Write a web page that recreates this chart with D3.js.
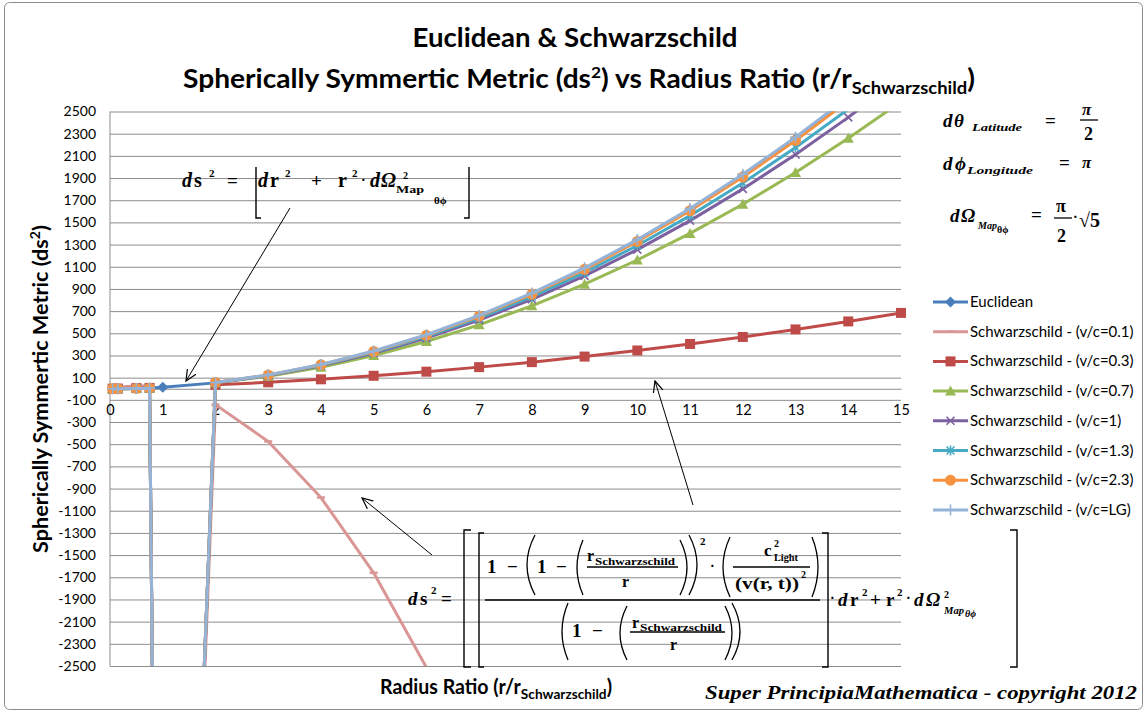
<!DOCTYPE html>
<html>
<head>
<meta charset="utf-8">
<script src="https://d3js.org/d3.v7.min.js"></script>
<style>
  body { margin: 0; background: #fff; }
  text { font-family: Lato, "Open Sans", sans-serif; fill: #000; }
  .eq text, text.serif { font-family: "Liberation Serif", "DejaVu Serif", serif; font-weight: bold; }
  .eq path, .eq line { stroke: #000; fill: none; }
</style>
</head>
<body>
<div id="chart"></div>
<script>
"use strict"

// raio r/r_Schwarzschild
var radio = [0.05, 0.15, 0.5, 0.75, 1, 2, 3, 4, 5, 6, 7, 8, 9, 10, 11, 12, 13, 14, 15];

var euclidean = [0, 0.3, 3.3, 7.5, 13.3, 53, 120, 213, 333, 480, 654, 854, 1080, 1334, 1614, 1920, 2254, 2614, 3001];
var vc01 = [4.8, 13, 27.8, 24, -12000, -143, -475, -981, -1660, -2513, -3538, -4737, -6110, -7655, -9374, -11266, -13332, -15571, -17983];
var vc03 = [0.6, 1.7, 5.6, 7.3, -12000, 35, 58, 85, 117, 154, 195, 240, 290, 345, 404, 467, 535, 607, 684];
var vc07 = [0.1, 0.5, 3.3, 5.6, -12000, 53, 112, 194, 299, 426, 576, 748, 943, 1161, 1401, 1664, 1950, 2258, 2588];
var vc1  = [0, 0.2, 3.1, 5.4, -12000, 55, 119, 207, 320, 457, 620, 807, 1018, 1255, 1516, 1802, 2112, 2447, 2807];
var vc13 = [0, 0.2, 3.0, 5.4, -12000, 56, 121, 212, 328, 470, 637, 830, 1048, 1292, 1561, 1855, 2176, 2521, 2893];
var vc23 = [0, 0.2, 2.9, 5.3, -12000, 57, 123, 216, 336, 482, 654, 852, 1077, 1328, 1605, 1909, 2239, 2595, 2977];
var vcLG = [0, 0.2, 2.8, 5.3, -12000, 57, 125, 219, 340, 487, 662, 863, 1090, 1345, 1626, 1934, 2268, 2629, 3017];

var nomes = ["Euclidean", "Schwarzschild - (v/c=0.1)", "Schwarzschild - (v/c=0.3)", "Schwarzschild - (v/c=0.7)",
             "Schwarzschild - (v/c=1)", "Schwarzschild - (v/c=1.3)", "Schwarzschild - (v/c=2.3)", "Schwarzschild - (v/c=LG)"];
var valores = [euclidean, vc01, vc03, vc07, vc1, vc13, vc23, vcLG];

var xTicks = [0, 1, 2, 3, 4, 5, 6, 7, 8, 9, 10, 11, 12, 13, 14, 15];
var yTicks = [2500, 2300, 2100, 1900, 1700, 1500, 1300, 1100, 900, 700, 500, 300, 100,
              -100, -300, -500, -700, -900, -1100, -1300, -1500, -1700, -1900, -2100, -2300, -2500];

// estilos
var cores = ["#4A7EBB", "#D99694", "#BE4B48", "#98B954", "#7D60A0", "#46AAC5", "#F69240", "#95B3D7"];
var marcas = ["diamond", "dash", "square", "triangle", "times", "star", "circle", "plus"];

var svg = d3.select('#chart').append('svg')
    .attr('width', 1146)
    .attr('height', 713);

svg.append('rect')
    .attr('x', 4.5).attr('y', 2.5).attr('width', 1138).attr('height', 707).attr('rx', 5)
    .attr('fill', '#fff').attr('stroke', '#8c8c8c');

var x = d3.scaleLinear().domain([0, 15]).range([110, 901]);
var y = d3.scaleLinear().domain([-2500, 2500]).range([666, 111.5]);

// grade
svg.append('g')
    .attr('transform', 'translate(110,0)')
    .call(d3.axisLeft(y).tickValues(yTicks).tickSize(-791).tickFormat(''))
    .call(g => g.select('.domain').remove())
    .selectAll('line').attr('stroke', '#8c8c8c');

svg.append('line').attr('x1', 110).attr('x2', 110).attr('y1', y(2500)).attr('y2', y(-2500)).attr('stroke', '#8c8c8c');

var eixoY = svg.append('g')
    .attr('transform', 'translate(110,0)')
    .call(d3.axisLeft(y).tickValues(yTicks).tickSize(0).tickPadding(14).tickFormat(d => String(d)));
eixoY.select('.domain').remove();
eixoY.selectAll('text').attr('font-size', 14).style('font-family', 'Lato, sans-serif');

var eixoX = svg.append('g')
    .attr('transform', 'translate(0,' + y(0) + ')')
    .call(d3.axisBottom(x).tickValues(xTicks).tickSize(0).tickPadding(16));
eixoX.select('.domain').attr('stroke', '#8c8c8c');
eixoX.selectAll('text').attr('font-size', 14.5).style('font-family', 'Lato, sans-serif');

// marcadores
function marca(g, tipo, cor) {
  var p;
  if (tipo == "diamond") p = g.append('path').attr('d', 'M0,-5.5L5.5,0L0,5.5L-5.5,0Z').attr('fill', cor);
  else if (tipo == "square") p = g.append('path').attr('d', 'M-5,-5H5V5H-5Z').attr('fill', cor);
  else if (tipo == "triangle") p = g.append('path').attr('d', 'M0,-5.5L5.5,4.5L-5.5,4.5Z').attr('fill', cor);
  else if (tipo == "circle") p = g.append('circle').attr('r', 5.5).attr('fill', cor);
  else if (tipo == "dash") p = g.append('path').attr('d', 'M-4,0H4').attr('stroke', cor).attr('stroke-width', 2.5);
  else if (tipo == "times") p = g.append('path').attr('d', 'M-4,-4L4,4M-4,4L4,-4').attr('stroke', cor).attr('stroke-width', 1.6);
  else if (tipo == "star") p = g.append('path').attr('d', 'M-4,-4L4,4M-4,4L4,-4M0,-5V5').attr('stroke', cor).attr('stroke-width', 1.6);
  else if (tipo == "plus") p = g.append('path').attr('d', 'M-5.5,0H5.5M0,-5.5V5.5').attr('stroke', cor).attr('stroke-width', 1.6);
  return p;
}

svg.append('clipPath').attr('id', 'area')
  .append('rect').attr('x', 110).attr('y', 111.5).attr('width', 791).attr('height', 554.5);

var linha = d3.line().x(d => x(d[0])).y(d => y(d[1]));

valores.forEach(function(serie, i) {
  var pontos = radio.map((r, j) => [r, serie[j]]);
  svg.append('path')
      .datum(pontos)
      .attr('clip-path', 'url(#area)')
      .attr('d', linha)
      .attr('fill', 'none')
      .attr('stroke', cores[i])
      .attr('stroke-width', 3)
      .attr('stroke-linejoin', 'round');
  pontos.filter(d => d[1] >= -2500 && d[1] <= 2500).forEach(function(d) {
    var g = svg.append('g').attr('transform', 'translate(' + x(d[0]) + ',' + y(d[1]) + ')');
    marca(g, marcas[i], cores[i]);
  });
});

// legenda
nomes.forEach(function(nome, i) {
  var ly = 302 + i * 29.7;
  svg.append('line').attr('x1', 933).attr('x2', 968).attr('y1', ly).attr('y2', ly)
      .attr('stroke', cores[i]).attr('stroke-width', 3);
  var g = svg.append('g').attr('transform', 'translate(950.5,' + ly + ')');
  marca(g, marcas[i], cores[i]);
  svg.append('text').attr('x', 970).attr('y', ly + 5).attr('font-size', 15).text(nome);
});

// titulos
svg.append('text').attr('x', 575).attr('y', 47).attr('text-anchor', 'middle')
    .attr('font-size', 26).attr('font-weight', 'bold')
    .attr('textLength', 325).attr('lengthAdjust', 'spacingAndGlyphs')
    .text("Euclidean & Schwarzschild");

var t2 = svg.append('text').attr('x', 183).attr('y', 88)
    .attr('font-size', 26).attr('font-weight', 'bold')
    .attr('textLength', 792).attr('lengthAdjust', 'spacingAndGlyphs');
t2.append('tspan').text("Spherically Symmertic Metric (ds");
t2.append('tspan').attr('font-size', 16).attr('dy', -10).text("2");
t2.append('tspan').attr('dy', 10).text(") vs Radius Ratio (r/r");
t2.append('tspan').attr('font-size', 17).attr('dy', 6).text("Schwarzschild");
t2.append('tspan').attr('dy', -6).text(")");

var ty = svg.append('text').attr('transform', 'translate(48,553) rotate(-90)')
    .attr('font-size', 20).attr('font-weight', 'bold')
    .attr('textLength', 328).attr('lengthAdjust', 'spacingAndGlyphs');
ty.append('tspan').text("Spherically Symmertic Metric (ds");
ty.append('tspan').attr('font-size', 13).attr('dy', -8).text("2");
ty.append('tspan').attr('dy', 8).text(")");

var tx = svg.append('text').attr('x', 380).attr('y', 694)
    .attr('font-size', 20).attr('font-weight', 'bold')
    .attr('textLength', 232).attr('lengthAdjust', 'spacingAndGlyphs');
tx.append('tspan').text("Radius Ratio (r/r");
tx.append('tspan').attr('font-size', 14).attr('dy', 5).text("Schwarzschild");
tx.append('tspan').attr('dy', -5).text(")");

svg.append('text').attr('class', 'serif').attr('x', 705).attr('y', 699)
    .attr('font-style', 'italic')
    .attr('font-size', 19).attr('textLength', 432).attr('lengthAdjust', 'spacingAndGlyphs')
    .text("Super PrincipiaMathematica - copyright 2012");

// setas
svg.append('defs').append('marker')
    .attr('id', 'seta').attr('viewBox', '0 0 12 12').attr('refX', 11).attr('refY', 6)
    .attr('markerWidth', 12).attr('markerHeight', 12).attr('markerUnits', 'userSpaceOnUse').attr('orient', 'auto')
  .append('path').attr('d', 'M0,1L11,6L0,11').attr('fill', 'none').attr('stroke', '#000').attr('stroke-width', 1.2);

[[290, 208, 186, 381], [432, 555, 362, 498], [693, 505, 655, 381]].forEach(function(s) {
  svg.append('line').attr('x1', s[0]).attr('y1', s[1]).attr('x2', s[2]).attr('y2', s[3])
      .attr('stroke', '#000').attr('stroke-width', 1).attr('marker-end', 'url(#seta)');
});

// equacoes
var eq = svg.append('g').attr('class', 'eq');

function txt(px, py, s, tam, ital, largura) {
  var t = eq.append('text').attr('x', px).attr('y', py).attr('font-size', tam)
      .attr('font-style', ital ? 'italic' : 'normal').text(s);
  if (largura) t.attr('textLength', largura).attr('lengthAdjust', 'spacingAndGlyphs');
  return t;
}
function parentese(x1, x2, y1, y2, esq) {
  var d = esq ? 'M' + x2 + ',' + y1 + 'Q' + (2 * x1 - x2) + ',' + (y1 + y2) / 2 + ' ' + x2 + ',' + y2
              : 'M' + x1 + ',' + y1 + 'Q' + (2 * x2 - x1) + ',' + (y1 + y2) / 2 + ' ' + x1 + ',' + y2;
  eq.append('path').attr('d', d).attr('stroke-width', 1.3);
}
function barra(x1, x2, yy) {
  eq.append('line').attr('x1', x1).attr('x2', x2).attr('y1', yy).attr('y2', yy).attr('stroke-width', 1.3);
}

// ds^2 = [dr^2 + r^2 dOmega^2]
txt(182, 187, "d", 20, true); txt(194, 187, "s", 20); txt(209, 177, "2", 11);
txt(227, 187, "=", 19);
eq.append('path').attr('d', 'M256,167V218H261').attr('stroke-width', 1.4);
txt(258, 187, "d", 20, true); txt(270, 187, "r", 20); txt(285, 177, "2", 11);
txt(311, 187, "+", 19);
txt(338, 187, "r", 20); txt(352, 177, "2", 11);
txt(361, 185, "·", 14);
txt(370, 187, "d", 20, true); txt(381, 187, "Ω", 20, true); txt(403, 179, "2", 10);
txt(396, 193, "Map", 10, false, 28); txt(434, 204, "θϕ", 11);
eq.append('path').attr('d', 'M469,167V218H464').attr('stroke-width', 1.4);

// dtheta, dphi, dOmega
txt(943, 127, "d", 19, true); txt(954, 127, "θ", 19, true); txt(972, 131, "Latitude", 10, true, 50);
txt(1045, 127, "=", 19);
txt(1082, 115, "π", 17, true); barra(1080, 1098, 120); txt(1084, 140, "2", 18);
txt(943, 170, "d", 19, true); txt(955, 170, "ϕ", 19, true); txt(967, 174, "Longitude", 10, true, 66);
txt(1059, 169, "=", 19);
txt(1082, 168, "π", 17, true);
txt(950, 222, "d", 19, true); txt(961, 222, "Ω", 19, true); txt(978, 229, "Map", 10, true, 19); txt(997, 233, "θϕ", 10);
txt(1031, 221, "=", 19);
txt(1056, 212, "π", 18); barra(1054, 1072, 218); txt(1057, 242, "2", 18);
txt(1073, 222, "·", 14);
txt(1079, 227, "√5", 20);

// equacao grande
txt(408, 605, "d", 19, true); txt(420, 605, "s", 19); txt(431, 594, "2", 11);
txt(441, 605, "=", 19);
eq.append('path').attr('d', 'M471,530H464V667H471').attr('stroke-width', 1.4);
eq.append('path').attr('d', 'M484,533H479V667H484').attr('stroke-width', 1.4);
txt(487, 573, "1", 19); txt(507, 573, "−", 19);
parentese(527, 535, 535, 595, true);
txt(537, 573, "1", 19); txt(556, 573, "−", 19);
parentese(577, 583, 540, 595, true);
txt(587, 561, "r", 16); txt(595, 565, "Schwarzschild", 11, false, 80);
barra(587, 678, 567);
txt(622, 587, "r", 16);
parentese(680, 687, 540, 595, false);
parentese(689, 697, 535, 595, false);
txt(700, 545, "2", 11);
txt(710, 571, "·", 14);
parentese(723, 730, 537, 597, true);
txt(764, 556, "c", 17); txt(774, 547, "2", 10); txt(774, 561, "Light", 10, false, 24);
barra(733, 810, 567);
txt(735, 589, "(v(r, t))", 16, false, 64); txt(801, 578, "2", 10);
parentese(812, 818, 537, 597, false);
barra(485, 820, 600);
parentese(562, 568, 603, 660, true);
txt(572, 637, "1", 19); txt(592, 637, "−", 19);
parentese(620, 627, 606, 660, true);
txt(632, 628, "r", 16); txt(640, 631, "Schwarzschild", 11, false, 82);
barra(630, 725, 632);
txt(670, 650, "r", 16);
parentese(725, 732, 606, 660, false);
parentese(732, 740, 603, 660, false);
eq.append('path').attr('d', 'M822,533H828V667H822').attr('stroke-width', 1.4);
txt(830, 603, "·", 14);
txt(838, 606, "d", 19, true); txt(850, 606, "r", 19); txt(862, 596, "2", 11);
txt(870, 606, "+", 19);
txt(886, 606, "r", 19); txt(897, 596, "2", 11);
txt(906, 603, "·", 14);
txt(914, 606, "d", 19, true); txt(926, 606, "Ω", 19, true); txt(944, 598, "2", 10);
txt(944, 614, "Map", 10, true, 20); txt(965, 617, "θϕ", 10, true);
eq.append('path').attr('d', 'M1010,530H1017V667H1010').attr('stroke-width', 1.4);
</script>
</body>
</html>
